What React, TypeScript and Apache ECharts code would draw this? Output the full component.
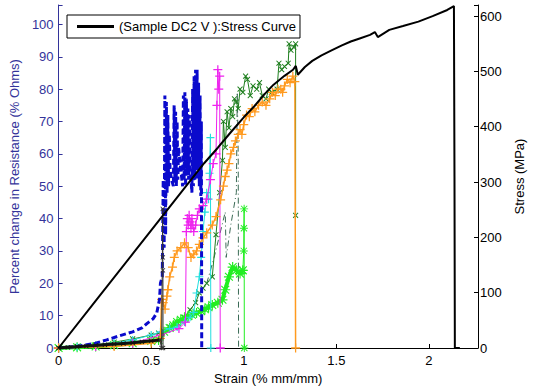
import React, { useEffect, useRef } from "react";
import * as echarts from "echarts";

const FONT = "'Liberation Sans', Arial, Helvetica, sans-serif";

// ---- Stress curve (right axis, MPa) ----
const stressStrain = [0, 0.2, 0.4, 0.6, 0.786, 0.86, 0.93, 1.0, 1.057, 1.11, 1.161, 1.22, 1.266, 1.281, 1.292, 1.33, 1.37, 1.42, 1.474, 1.53, 1.578, 1.63, 1.682, 1.708, 1.724, 1.786, 1.86, 1.943, 2.02, 2.099, 2.135, 2.138, 2.14, 2.167];
const stressMPa = [0, 85, 170, 255, 334, 362, 390, 417, 437, 458, 476, 492, 503, 510, 494, 508, 519, 529, 538, 547, 554, 560, 566, 571, 562, 575, 582, 590, 600, 611, 618, 310, 0, 0];

// ---- Resistance change series (left axis, %) ----
const blueStrain = [0, 0.1, 0.2, 0.26, 0.33, 0.4, 0.45, 0.48, 0.51, 0.53, 0.545, 0.55, 0.56, 0.565, 0.57, 0.574, 0.578, 0.582, 0.586, 0.59, 0.594, 0.598, 0.602, 0.61, 0.62, 0.624, 0.628, 0.632, 0.636, 0.64, 0.644, 0.648, 0.66, 0.67, 0.674, 0.678, 0.682, 0.686, 0.69, 0.694, 0.698, 0.702, 0.706, 0.71, 0.72, 0.724, 0.728, 0.732, 0.736, 0.74, 0.744, 0.748, 0.752, 0.756, 0.76, 0.764, 0.768, 0.771, 0.773];
const bluePct = [0, 0.5, 1.5, 2.5, 3.8, 5, 6.2, 7.7, 9, 10.8, 15, 20, 22, 52, 31, 78, 35, 76, 48, 72, 50, 66, 55, 52, 50, 75, 52, 73, 50, 70, 52, 62, 55, 50, 78, 52, 79, 50, 77, 55, 74, 52, 72, 56, 48, 80, 50, 84, 52, 86, 55, 86, 52, 82, 50, 78, 47, 70, 0];

const cyanStrain = [0, 0.1, 0.2, 0.3, 0.4, 0.5, 0.55, 0.6, 0.64, 0.68, 0.71, 0.73, 0.745, 0.76, 0.77, 0.78, 0.79, 0.8, 0.81, 0.815, 0.82, 0.822];
const cyanPct = [0, 0.3, 0.8, 1.5, 2.5, 4, 5, 6, 6.5, 8, 9.5, 11, 17, 22, 28, 36, 42, 48, 46, 54, 65, 0];

const magentaStrain = [0, 0.2, 0.4, 0.55, 0.65, 0.685, 0.69, 0.695, 0.7, 0.705, 0.71, 0.715, 0.72, 0.725, 0.73, 0.74, 0.75, 0.76, 0.78, 0.8, 0.82, 0.835, 0.85, 0.855, 0.86, 0.865, 0.87, 0.873];
const magentaPct = [0, 0.5, 1.5, 4, 6, 8, 36, 40, 38, 41, 39, 37, 40, 38, 36, 38, 41, 43, 44, 46, 52, 57, 60, 75, 86, 80, 84, 0];

const orangeStrain = [0, 0.3, 0.5, 0.55, 0.556, 0.565, 0.575, 0.585, 0.59, 0.6, 0.615, 0.625, 0.64, 0.66, 0.68, 0.7, 0.715, 0.73, 0.745, 0.76, 0.78, 0.8, 0.83, 0.85, 0.875, 0.89, 0.9, 0.91, 0.92, 0.93, 0.945, 0.955, 0.97, 0.98, 0.99, 1.0, 1.015, 1.03, 1.045, 1.06, 1.08, 1.1, 1.12, 1.14, 1.155, 1.17, 1.185, 1.2, 1.21, 1.22, 1.235, 1.25, 1.265, 1.276, 1.28];
const orangePct = [0, 0.5, 1.5, 3, 15, 14, 12, 16, 18, 22, 25, 28, 30, 31, 32.5, 31, 28, 29, 30, 32, 34, 35.6, 38, 40.6, 45.8, 50, 53, 55, 57, 60, 62, 64, 66, 67.5, 66, 69, 72, 71.5, 74, 73, 75, 76, 75, 77, 79, 78, 80, 80, 79, 81, 83, 82, 84, 82.3, 0];

const darkGreenStrain = [0, 0.1, 0.2, 0.3, 0.4, 0.5, 0.54, 0.6, 0.64, 0.68, 0.71, 0.74, 0.76, 0.78, 0.8, 0.83, 0.85, 0.87, 0.885, 0.89, 0.9, 0.91, 0.92, 0.93, 0.94, 0.95, 0.96, 0.97, 0.98, 0.995, 1.01, 1.02, 1.035, 1.05, 1.07, 1.085, 1.1, 1.12, 1.135, 1.15, 1.18, 1.19, 1.205, 1.22, 1.24, 1.245, 1.255, 1.27, 1.28, 1.28];
const darkGreenPct = [0, 0.5, 1, 1.8, 2.8, 4, 4.6, 6.5, 7.7, 9.5, 11.8, 14, 17, 18.5, 20, 22, 35, 48, 58, 70, 62, 73, 68, 74, 71.5, 77, 76, 74, 80, 79, 84, 83, 78, 81, 80, 82, 78, 77, 80, 79, 80, 88, 86, 87, 88, 94, 92, 93, 94, 41];

const dashDotStrain = [0.8, 0.84, 0.87, 0.9, 0.905, 0.93, 0.96, 0.965, 0.97, 0.972];
const dashDotPct = [20, 28, 35, 42, 28, 38, 48, 79, 60, 0];

const lightGreenStrain = [0, 0.1, 0.2, 0.3, 0.4, 0.5, 0.54, 0.57, 0.6, 0.62, 0.64, 0.66, 0.68, 0.7, 0.72, 0.745, 0.77, 0.79, 0.81, 0.83, 0.86, 0.885, 0.9, 0.92, 0.94, 0.96, 0.98, 0.995];
const lightGreenPct = [0, 0.2, 0.5, 0.9, 1.5, 2.2, 2.5, 5, 6.2, 7, 8, 8.7, 9.2, 9.8, 10.3, 10.8, 11.4, 12, 12.6, 13.3, 14, 14.9, 18, 22, 25, 24, 23, 24];
const lightGreenTailStrain = [0.995, 1.0, 1.001, 1.002, 1.003];
const lightGreenTailPct = [24, 30, 37, 43, 0];

const blackStrain = [0, 0.05, 0.1, 0.15, 0.2, 0.25, 0.3, 0.35, 0.4, 0.45, 0.5, 0.547];
const blackPct = [0, 0.2, 0.4, 0.6, 0.8, 1.0, 1.2, 1.4, 1.6, 1.9, 2.2, 2.5];
const blackTailStrain = [0.547, 0.556, 0.5625, 0.563, 0.5635, 0.564];
const blackTailPct = [2.5, 0, 43, 28, 24, 0];

const legendName = "(Sample DC2 V ):Stress Curve";

const PLUS = "path://M4.3,0H5.7V4.3H10V5.7H5.7V10H4.3V5.7H0V4.3H4.3Z";
const STAR = "path://M4.4,0H5.6V10H4.4Z M0,4.4H10V5.6H0Z M1.5,0.7L9.3,8.5L8.5,9.3L0.7,1.5Z M8.5,0.7L9.3,1.5L1.5,9.3L0.7,8.5Z";

const zip = (xs: number[], ys: number[]) => xs.map((x, i) => [x, ys[i]]);

function mk(name: string, xs: number[], ys: number[], color: string, opts: any = {}) {
  return {
    name,
    type: "line",
    yAxisIndex: 0,
    data: zip(xs, ys),
    symbol: opts.symbol ?? "none",
    symbolSize: opts.symbolSize ?? 7,
    symbolRotate: opts.symbolRotate ?? 0,
    showAllSymbol: true,
    lineStyle: { color, width: opts.width ?? 1, type: opts.lineType ?? "solid" },
    itemStyle: { color },
    emphasis: { disabled: true },
    silent: true,
    z: opts.z ?? 2,
  };
}

export default function App() {
  const ref = useRef<HTMLDivElement>(null);
  useEffect(() => {
    const chart = echarts.init(ref.current!, null, { renderer: "svg" });
    const blueAxis = "#33339a";
    const option: any = {
      animation: false,
      backgroundColor: "#ffffff",
      textStyle: { fontFamily: FONT },
      grid: { left: 57, right: 42, top: 5, bottom: 44, show: false },
      legend: {
        data: [{ name: legendName, icon: "rect" }],
        left: 67,
        top: 15,
        orient: "horizontal",
        padding: [5, 4, 5, 10],
        itemWidth: 37,
        itemHeight: 3,
        itemGap: 4,
        borderColor: "#000",
        borderWidth: 1,
        backgroundColor: "#fff",
        textStyle: { fontFamily: FONT, fontSize: 13, color: "#000", padding: [0, 0, 0, 0] },
        selectedMode: false,
      },
      xAxis: {
        type: "value",
        min: 0,
        max: 2.265,
        interval: 0.5,
        name: "Strain (% mm/mm)",
        nameLocation: "middle",
        nameGap: 20,
        nameTextStyle: { fontFamily: FONT, fontSize: 13, color: "#000" },
        axisLine: { show: true, onZero: false, lineStyle: { color: "#000", width: 1 } },
        axisTick: { show: true, inside: true, length: 4, lineStyle: { color: "#000" } },
        axisLabel: {
          fontFamily: FONT,
          fontSize: 13,
          color: "#000",
          margin: 6,
          formatter: (v: number) => (Math.abs(v * 2 - Math.round(v * 2)) < 1e-6 && v <= 2.0001 ? String(v) : ""),
        },
        splitLine: { show: false },
      },
      yAxis: [
        {
          type: "value",
          position: "left",
          min: 0,
          max: 106,
          interval: 10,
          name: "Percent change in Resistance (% Ohms)",
          nameLocation: "middle",
          nameGap: 29,
          nameTextStyle: { fontFamily: FONT, fontSize: 13, color: blueAxis },
          axisLine: { show: true, onZero: false, lineStyle: { color: blueAxis, width: 1 } },
          axisTick: { show: true, inside: true, length: 4, lineStyle: { color: blueAxis } },
          axisLabel: {
            fontFamily: FONT,
            fontSize: 13,
            color: blueAxis,
            margin: 5,
            formatter: (v: number) => (v % 10 === 0 && v <= 100 ? String(v) : ""),
          },
          splitLine: { show: false },
        },
        {
          type: "value",
          position: "right",
          min: 0,
          max: 620,
          interval: 100,
          name: "Stress (MPa)",
          nameLocation: "middle",
          nameGap: 35,
          nameTextStyle: { fontFamily: FONT, fontSize: 13, color: "#000" },
          axisLine: { show: true, onZero: false, lineStyle: { color: "#000", width: 1 } },
          axisTick: { show: true, inside: true, length: 4, lineStyle: { color: "#000" } },
          axisLabel: {
            fontFamily: FONT,
            fontSize: 13,
            color: "#000",
            margin: 2,
            formatter: (v: number) => (v % 100 === 0 && v <= 600 ? String(v) : ""),
          },
          splitLine: { show: false },
        },
      ],
      series: [
        mk("dashdot", dashDotStrain, dashDotPct, "#3a6a55", { lineType: [6, 3, 1, 3], z: 2 }),
        mk("darkgreen", darkGreenStrain, darkGreenPct, "#1f7f1f", { symbol: PLUS, symbolRotate: 45, symbolSize: 7, z: 3 }),
        mk("lightgreen", lightGreenStrain, lightGreenPct, "#22ee22", { symbol: STAR, symbolSize: 10, width: 4, z: 4 }),
        mk("lightgreenTail", lightGreenTailStrain, lightGreenTailPct, "#22ee22", { symbol: STAR, symbolSize: 8, width: 1, z: 4 }),
        mk("cyan", cyanStrain, cyanPct, "#22dede", { symbol: PLUS, symbolSize: 8, z: 5 }),
        mk("magenta", magentaStrain, magentaPct, "#ee22ee", { symbol: PLUS, symbolSize: 9, z: 6 }),
        mk("orange", orangeStrain, orangePct, "#ff9a1f", { symbol: PLUS, symbolSize: 9, width: 1.5, z: 7 }),
        mk("blue", blueStrain, bluePct, "#0a0acc", { width: 3, lineType: [6, 3], z: 8 }),
        mk("blackR", blackStrain, blackPct, "#111111", { symbol: PLUS, symbolRotate: 45, symbolSize: 6, width: 3, z: 9 }),
        mk("blackRTail", blackTailStrain, blackTailPct, "#333333", { symbol: PLUS, symbolRotate: 45, symbolSize: 6, width: 1, z: 9 }),
        {
          name: legendName,
          type: "line",
          yAxisIndex: 1,
          data: zip(stressStrain, stressMPa),
          symbol: "none",
          lineStyle: { color: "#000", width: 2 },
          itemStyle: { color: "#000" },
          emphasis: { disabled: true },
          silent: true,
          z: 10,
        },
      ],
    };
    chart.setOption(option);
    return () => chart.dispose();
  }, []);
  return (
    <div
      ref={ref}
      style={{ position: "fixed", left: 0, top: 0, width: 534, height: 392, background: "#fff" }}
    />
  );
}
